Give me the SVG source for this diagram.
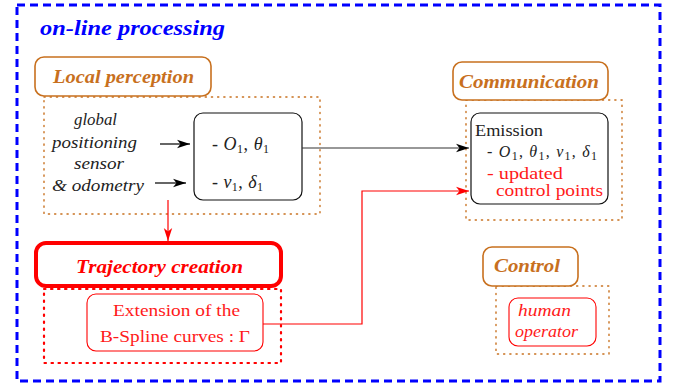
<svg xmlns="http://www.w3.org/2000/svg" width="683" height="384" viewBox="0 0 683 384">
  <defs>
    <marker id="arrK" markerUnits="userSpaceOnUse" markerWidth="14" markerHeight="10" refX="13" refY="5" orient="auto">
      <path d="M0,0.8 L13,5 L0,9.2 L3.5,5 Z" fill="#000"/>
    </marker>
    <marker id="arrR" markerUnits="userSpaceOnUse" markerWidth="14" markerHeight="10" refX="13" refY="5" orient="auto">
      <path d="M0,0.8 L13,5 L0,9.2 L3.5,5 Z" fill="#ff0000"/>
    </marker>
  </defs>
  <style>
    text { font-family: "Liberation Serif", "DejaVu Serif", serif; font-size: 17px; fill: #222; }
    .hdr { font-weight: bold; font-style: italic; fill: #c8701e; font-size: 18px; }
    .hdrbox { fill: #fff; stroke: #c8701e; stroke-width: 1.6; }
    .dotO { fill: none; stroke: #c8701e; stroke-width: 1.4; stroke-dasharray: 1.2 5; stroke-linecap: round; }
    .dotR { fill: none; stroke: #ff0000; stroke-width: 2.2; stroke-dasharray: 1.5 5.5; stroke-linecap: round; }
    .blk { fill: #fff; stroke: #111; stroke-width: 1.2; }
    .redbox { fill: #fff; stroke: #ff0000; stroke-width: 1.1; }
    .it { font-style: italic; }
    .red { fill: #ff1a1a; }
    .sm { font-size: 16px; }
    .math { font-size: 18px; }
    .sub { font-size: 12px; }
    .conn { fill: none; stroke-width: 1.2; }
  </style>

  <!-- outer frame -->
  <rect x="17" y="5" width="643" height="376" fill="none" stroke="#0000ff" stroke-width="3" stroke-dasharray="8 5"/>
  <text x="40" y="35" textLength="185" lengthAdjust="spacingAndGlyphs" style="font-weight:bold;font-style:italic;fill:#0000ff;font-size:20px">on-line processing</text>

  <!-- local perception -->
  <g id="local-perception">
    <rect class="dotO" x="44" y="97" width="276" height="117"/>
    <rect class="hdrbox" x="35" y="57" width="176" height="39" rx="9"/>
    <text class="hdr" x="53" y="83" textLength="141" lengthAdjust="spacingAndGlyphs">Local perception</text>
    <text class="it" x="74" y="125" textLength="43" lengthAdjust="spacingAndGlyphs">global</text>
    <text class="it" x="52" y="148" textLength="85" lengthAdjust="spacingAndGlyphs">positioning</text>
    <text class="it" x="74" y="169" textLength="50" lengthAdjust="spacingAndGlyphs">sensor</text>
    <text class="it" x="52" y="191" textLength="92" lengthAdjust="spacingAndGlyphs">&amp; odometry</text>
  </g>

  <g id="state-box">
    <rect class="blk" x="194" y="113" width="108" height="87" rx="9"/>
    <text class="math" x="212" y="150" textLength="57">- <tspan class="it">O</tspan><tspan class="sub" dy="3">1</tspan><tspan dy="-3">, </tspan><tspan class="it">θ</tspan><tspan class="sub" dy="3">1</tspan></text>
    <text class="math" x="212" y="188" textLength="51">- <tspan class="it">v</tspan><tspan class="sub" dy="3">1</tspan><tspan dy="-3">, </tspan><tspan class="it">δ</tspan><tspan class="sub" dy="3">1</tspan></text>
  </g>

  <!-- communication -->
  <g id="communication">
    <rect class="dotO" x="466" y="100" width="156" height="120"/>
    <rect class="hdrbox" x="453" y="62" width="155" height="38" rx="9"/>
    <text class="hdr" x="459" y="88" textLength="140" lengthAdjust="spacingAndGlyphs">Communication</text>
  </g>

  <g id="emission">
    <rect class="blk" x="471" y="113" width="137" height="91" rx="9"/>
    <text class="sm" x="475" y="136" textLength="68" lengthAdjust="spacingAndGlyphs">Emission</text>
    <text class="sm" x="487" y="157" textLength="110">- <tspan class="it">O</tspan><tspan class="sub" dy="2.5">1</tspan><tspan dy="-2.5">, </tspan><tspan class="it">θ</tspan><tspan class="sub" dy="2.5">1</tspan><tspan dy="-2.5">, </tspan><tspan class="it">v</tspan><tspan class="sub" dy="2.5">1</tspan><tspan dy="-2.5">, </tspan><tspan class="it">δ</tspan><tspan class="sub" dy="2.5">1</tspan></text>
    <text class="sm red" x="487" y="179" textLength="76" lengthAdjust="spacingAndGlyphs">- updated</text>
    <text class="sm red" x="496" y="196" textLength="107" lengthAdjust="spacingAndGlyphs">control points</text>
  </g>

  <!-- trajectory creation -->
  <g id="trajectory-creation">
    <rect class="dotR" x="44" y="289" width="237" height="74"/>
    <rect x="36" y="243" width="245" height="43" rx="10" fill="#fff" stroke="#ff0000" stroke-width="4"/>
    <text class="hdr" x="76" y="273" textLength="167" lengthAdjust="spacingAndGlyphs" style="fill:#ff0000">Trajectory creation</text>
  </g>

  <g id="bspline">
    <rect class="redbox" x="87" y="294" width="176" height="57" rx="9"/>
    <text class="red" x="113" y="316" textLength="127" lengthAdjust="spacingAndGlyphs">Extension of the</text>
    <text class="red" x="100" y="342" textLength="150" lengthAdjust="spacingAndGlyphs">B-Spline curves : Γ</text>
  </g>

  <!-- control -->
  <g id="control">
    <rect class="dotO" x="496" y="286" width="113" height="68"/>
    <rect class="hdrbox" x="483" y="247" width="95" height="39" rx="9"/>
    <text class="hdr" x="494" y="272" textLength="66" lengthAdjust="spacingAndGlyphs">Control</text>
  </g>

  <g id="human-operator">
    <rect class="redbox" x="509" y="298" width="87" height="48" rx="9"/>
    <text class="it red" x="518" y="316" textLength="53" lengthAdjust="spacingAndGlyphs">human</text>
    <text class="it red" x="515" y="337" textLength="63" lengthAdjust="spacingAndGlyphs">operator</text>
  </g>

  <!-- connectors -->
  <g id="connectors">
    <line class="conn" x1="160" y1="144" x2="190" y2="144" stroke="#000" marker-end="url(#arrK)"/>
    <line class="conn" x1="155" y1="183" x2="186" y2="183" stroke="#000" marker-end="url(#arrK)"/>
    <line class="conn" x1="302" y1="148" x2="469" y2="148" stroke="#333" marker-end="url(#arrK)"/>
    <line class="conn" x1="168" y1="200" x2="168" y2="241" stroke="#ff0000" marker-end="url(#arrR)"/>
    <polyline class="conn" points="263,324 362,324 362,191 469,191" stroke="#ff0000" marker-end="url(#arrR)"/>
  </g>
</svg>
